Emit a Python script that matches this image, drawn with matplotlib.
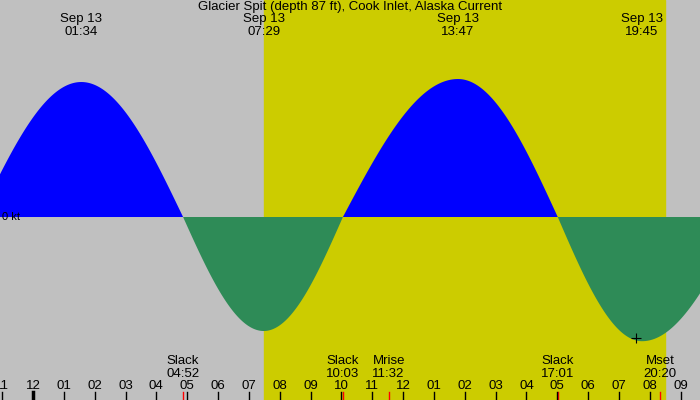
import numpy as np
import matplotlib
matplotlib.use("Agg")
import matplotlib.pyplot as plt
import matplotlib.transforms as mtrans

plt.rcParams['font.family'] = ['Liberation Sans', 'DejaVu Sans']

# hours from midnight Sep 13
event_t = [-1.75, 1.567, 4.867, 7.483, 10.05, 13.783, 17.017, 19.75, 23.0]
event_v = [0.0, 2.25, 0.0, -1.9, 0.0, 2.3, 0.0, -2.07, 0.0]
max_times = ["01:34", "07:29", "13:47", "19:45"]
max_t = [1.567, 7.483, 13.783, 19.75]
slack_labels = ["04:52", "10:03", "17:01"]
slack_t = [4.867, 10.05, 17.017]
moon_labels = [("Mrise", "11:32", 11.533), ("Mset", "20:20", 20.333)]
sunrise, sunset = 7.483, 20.5
hour_ticks = list(range(-1, 22))

xmin, xmax = -1.07, 21.63
fig = plt.figure(figsize=(7, 4), dpi=100)
ax = fig.add_axes([0, 0, 1, 1])
ax.set_xlim(xmin, xmax)
ax.set_ylim(-3.05, 3.617)
ax.axis("off")
fig.patch.set_facecolor("#c0c0c0")
ax.axvspan(sunrise, sunset, color="#cccc00", zorder=0)

# curve: half-cosine between successive events
ts, vs = [], []
for i in range(len(event_t) - 1):
    t0, t1 = event_t[i], event_t[i + 1]
    v0, v1 = event_v[i], event_v[i + 1]
    s = np.linspace(0, 1, 80)
    ts.append(t0 + (t1 - t0) * s)
    if v0 == 0:
        vs.append(v1 * np.sin(s * np.pi / 2))
    else:
        vs.append(v0 * np.cos(s * np.pi / 2))
t = np.concatenate(ts); v = np.concatenate(vs)
ax.fill_between(t, 0, v, where=v >= 0, color="#0000ff", lw=0, zorder=2)
ax.fill_between(t, 0, v, where=v <= 0, color="#2e8b57", lw=0, zorder=2)

tr = mtrans.blended_transform_factory(ax.transData, fig.transFigure)
def py(p):
    return 1 - p / 400.0

fs = 9.5
ax.text(-1.07 + 0.08, 0, "0 kt", fontsize=8, va="center", ha="left", zorder=3)
fig.text(0.5, py(7), "Glacier Spit (depth 87 ft), Cook Inlet, Alaska Current",
         ha="center", va="center", fontsize=fs)
for lab, tt in zip(max_times, max_t):
    ax.text(tt, py(19), "Sep 13", transform=tr, ha="center", va="center", fontsize=fs)
    ax.text(tt, py(32), lab, transform=tr, ha="center", va="center", fontsize=fs)
for lab, tt in zip(slack_labels, slack_t):
    ax.text(tt, py(361), "Slack", transform=tr, ha="center", va="center", fontsize=fs)
    ax.text(tt, py(374), lab, transform=tr, ha="center", va="center", fontsize=fs)
    ax.plot([tt, tt], [py(392), py(400)], transform=tr, color="red", lw=1, clip_on=False)
for name, lab, tt in moon_labels:
    ax.text(tt, py(361), name, transform=tr, ha="center", va="center", fontsize=fs)
    ax.text(tt, py(374), lab, transform=tr, ha="center", va="center", fontsize=fs)
    ax.plot([tt, tt], [py(392), py(400)], transform=tr, color="red", lw=1, clip_on=False)
for h in hour_ticks:
    lbl = "%02d" % (((h - 1) % 12) + 1)
    ax.text(h, py(386), lbl, transform=tr, ha="center", va="center", fontsize=fs)
    ax.plot([h, h], [py(392), py(400)], transform=tr, color="black",
            lw=2.5 if h == 0 else 1, clip_on=False)
ax.plot([19.55], [-2.02], marker="+", color="black", ms=7, mew=0.8, zorder=4)
fig.savefig("out.png", dpi=100, facecolor=fig.get_facecolor())
